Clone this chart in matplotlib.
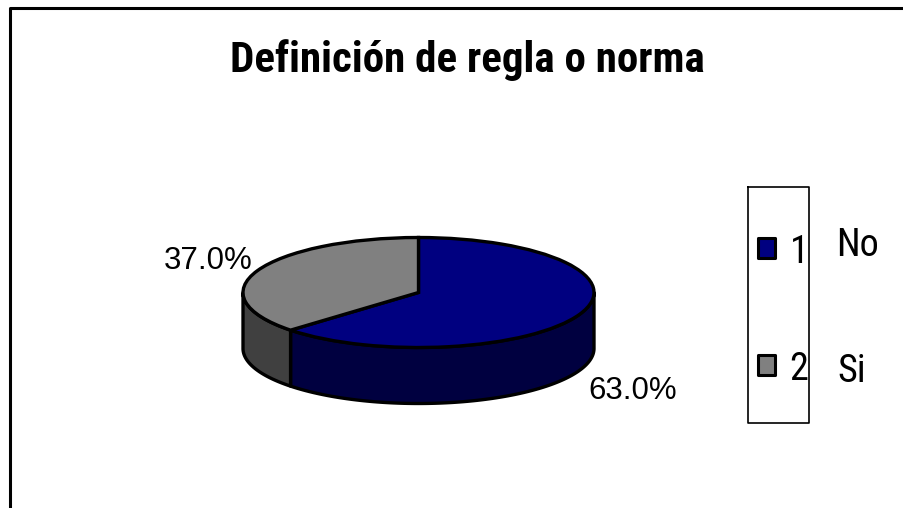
import numpy as np
import matplotlib
matplotlib.use('Agg')
import matplotlib.pyplot as plt
from matplotlib.patches import Rectangle

plt.rcParams['font.family'] = ['Liberation Sans', 'DejaVu Sans']
narrow = ['Roboto Condensed', 'Liberation Sans', 'DejaVu Sans']

title = 'Definición de regla o norma'
values = [63.0, 37.0]
pct_labels = ['63.0%', '37.0%']
legend_keys = ['1', '2']
legend_names = ['No', 'Si']
top_colors = ['#000080', '#808080']
side_colors = ['#000040', '#404040']

W, H = 904, 508
fig = plt.figure(figsize=(W / 100, H / 100), dpi=100)
bg = fig.add_axes([0, 0, 1, 1])
bg.set_xlim(0, W)
bg.set_ylim(H, 0)
bg.axis('off')

# chart frame: only top and left edges show in the crop
bg.plot([10, 10, W], [H, 8, 8], color='black', lw=2.2, solid_capstyle='butt')

# pie axes: unit circle squashed to an ellipse
cx, cy, rx, ry, depth = 418.5, 292.5, 175.5, 55, 56
ax = fig.add_axes([(cx - rx) / W, 1 - (cy + ry) / H, 2 * rx / W, 2 * ry / H])
ax.set_zorder(3)
ax.patch.set_alpha(0)

# side wall first, going clockwise from 12 o'clock like the pie
dy = 2 * depth / (2 * ry)
start = 90.0
for val, col in zip(values, side_colors):
    end = start - val * 3.6
    a = np.radians(np.linspace(start, end, 200))
    # only the front half of the rim has a visible wall
    a = a[np.sin(a) <= 0]
    if len(a):
        xs = np.concatenate([np.cos(a), np.cos(a[::-1])])
        ys = np.concatenate([np.sin(a), np.sin(a[::-1]) - dy])
        ax.fill(xs, ys, facecolor=col, edgecolor='black', lw=2.4, clip_on=False, joinstyle='round')
    start = end

ax.pie(values, colors=top_colors, startangle=90, counterclock=False, radius=1,
       wedgeprops=dict(edgecolor='black', linewidth=2.4, clip_on=False))
ax.set_aspect('auto')
ax.set_xlim(-1, 1)
ax.set_ylim(-1, 1)
ax.axis('off')

bg.text(467.5, 72, title, ha='center', va='baseline', fontsize=31, fontweight='bold',
        color='black', family=narrow)
for s, (x, y) in zip(pct_labels, [(633, 399), (208, 269)]):
    bg.text(x, y, s, ha='center', va='baseline', fontsize=22.5, color='black')

# legend box
bg.plot([748, 748, 809, 809, 748], [187, 423, 423, 187, 187], color='black', lw=1.2)
key_y = [248, 365]
text_y = [263, 380]
name_x = [858, 852]
name_y = [256, 382]
for key, name, col, ky, ty, nx, ny in zip(legend_keys, legend_names, top_colors, key_y, text_y, name_x, name_y):
    bg.add_patch(Rectangle((758.5, ky - 10), 17, 20, facecolor=col, edgecolor='black', lw=2.2, joinstyle='round'))
    bg.text(799, ty, key, ha='center', va='baseline', fontsize=27.5, color='black', family=narrow)
    bg.text(nx, ny, name, ha='center', va='baseline', fontsize=27.5, color='black', family=narrow)

fig.savefig('out.png', dpi=100)
